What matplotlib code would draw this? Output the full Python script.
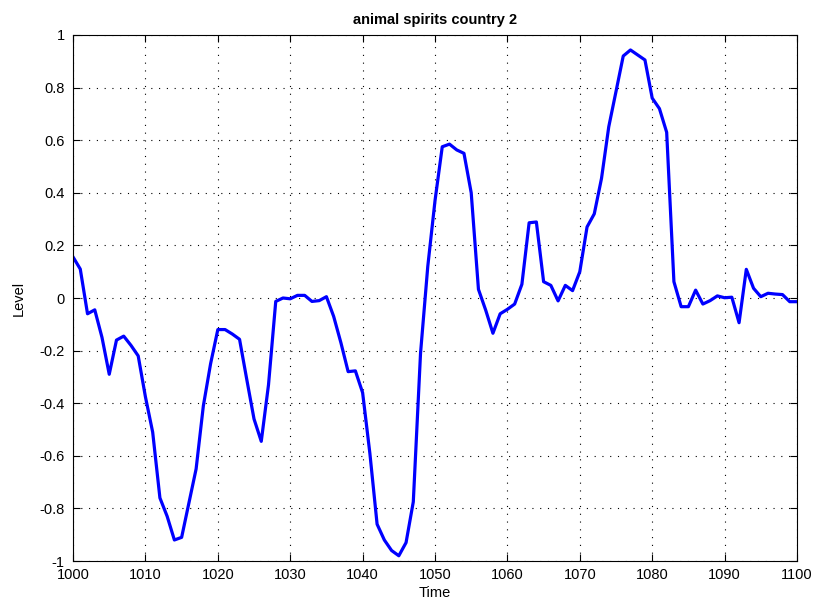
import matplotlib
matplotlib.use("Agg")
import matplotlib.pyplot as plt
import numpy as np

plt.rcParams['font.family'] = ['Liberation Sans', 'DejaVu Sans']

time = np.arange(1000, 1101)
level = [
    0.156, 0.11, -0.06, -0.045, -0.15, -0.29, -0.16, -0.145, -0.18, -0.22,
    -0.376, -0.51, -0.76, -0.83, -0.92, -0.91, -0.78, -0.65, -0.41, -0.25,
    -0.12, -0.12, -0.137, -0.157, -0.31, -0.46, -0.545, -0.33, -0.013, 0.0,
    -0.003, 0.01, 0.01, -0.013, -0.01, 0.005, -0.07, -0.17, -0.28, -0.277,
    -0.36, -0.59, -0.86, -0.92, -0.96, -0.98, -0.93, -0.775, -0.21, 0.12,
    0.37, 0.575, 0.585, 0.563, 0.55, 0.40, 0.033, -0.046, -0.134, -0.06,
    -0.043, -0.023, 0.052, 0.286, 0.289, 0.062, 0.048, -0.011, 0.048, 0.028,
    0.10, 0.27, 0.32, 0.455, 0.651, 0.785, 0.92, 0.943, 0.924, 0.905,
    0.76, 0.72, 0.63, 0.062, -0.033, -0.033, 0.03, -0.023, -0.01, 0.008,
    0.001, 0.003, -0.094, 0.109, 0.037, 0.005, 0.018, 0.015, 0.013, -0.014,
    -0.014,
]

fig = plt.figure(figsize=(8.17, 5.99), dpi=100)
ax = fig.add_axes([0.0894, 0.0634, 0.8861, 0.8782])

ax.plot(time, level, color='#0000ff', linewidth=2.3)

ax.set_xlim(1000, 1100)
ax.set_ylim(-1, 1)
ax.set_xticks(np.arange(1000, 1101, 10))
ax.set_yticks(np.round(np.arange(-1, 1.01, 0.2), 1))
ax.set_yticklabels(['-1', '-0.8', '-0.6', '-0.4', '-0.2', '0',
                    '0.2', '0.4', '0.6', '0.8', '1'])

# matlab-ish dotted grid, ticks inside on all four sides
ax.grid(True, linestyle=(0, (1, 6)), color='black', linewidth=0.8)
ax.tick_params(direction='in', top=True, right=True, length=5,
               labelsize=10.5, width=0.8)
ax.tick_params(axis='y', pad=6)
ax.tick_params(axis='x', pad=5)
for s in ax.spines.values():
    s.set_linewidth(0.8)

ax.set_xlabel('Time', fontsize=10.5, labelpad=3)
ax.set_ylabel('Level', fontsize=10.5, labelpad=10)
ax.set_title('animal spirits country 2', fontsize=10.5, fontweight='bold', pad=8)

fig.savefig('out.png', dpi=100)
